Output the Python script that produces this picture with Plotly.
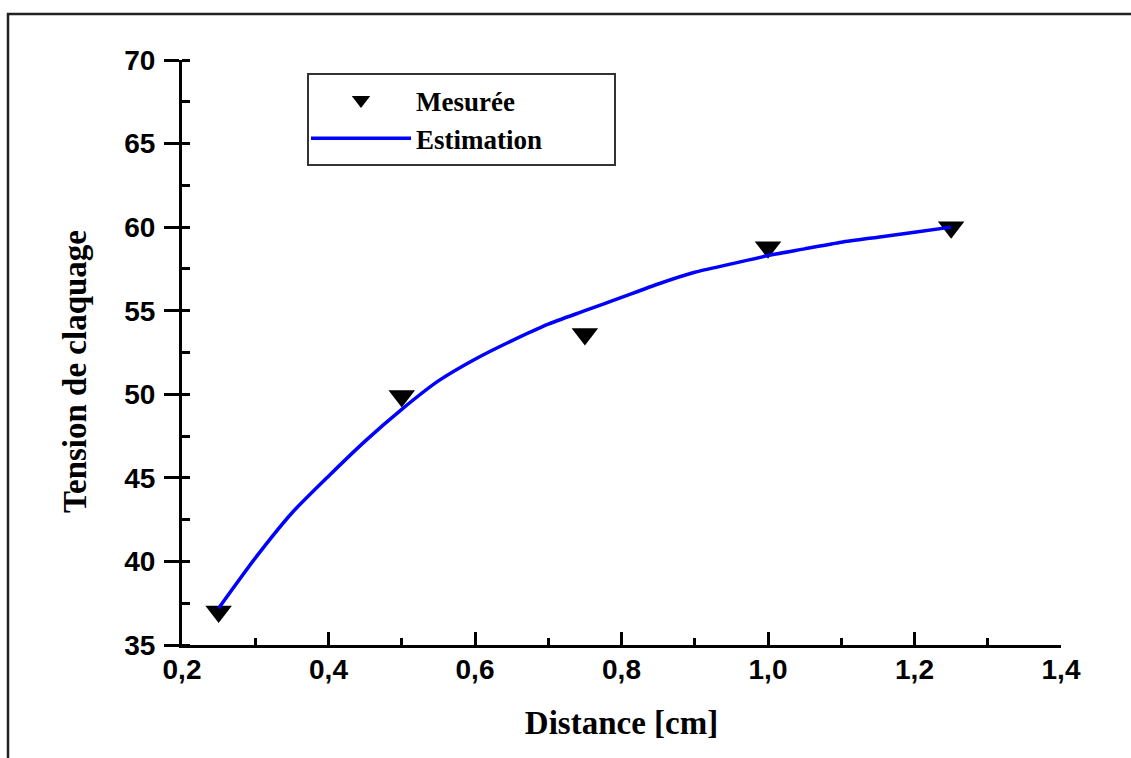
import plotly.graph_objects as go

# Measured data
dist_measured = [0.25, 0.50, 0.75, 1.00, 1.25]
tension_measured = [37.0, 49.9, 53.6, 58.8, 60.0]

# Estimation curve
dist_est = [0.25, 0.30, 0.35, 0.40, 0.45, 0.50, 0.55, 0.60, 0.65, 0.70, 0.75,
            0.80, 0.85, 0.90, 0.95, 1.00, 1.05, 1.10, 1.15, 1.20, 1.25]
tension_est = [37.2, 40.2, 42.9, 45.1, 47.2, 49.1, 50.8, 52.1, 53.2, 54.2, 55.0,
               55.8, 56.6, 57.3, 57.8, 58.3, 58.7, 59.1, 59.4, 59.7, 60.0]

x_tick_vals = [0.2, 0.4, 0.6, 0.8, 1.0, 1.2, 1.4]
x_tick_text = ["0,2", "0,4", "0,6", "0,8", "1,0", "1,2", "1,4"]
y_tick_vals = [35, 40, 45, 50, 55, 60, 65, 70]
y_tick_text = ["35", "40", "45", "50", "55", "60", "65", "70"]

W, H = 1131, 758
L, R, T, B = 182, 70, 60, 113
pw = W - L - R
ph = H - T - B


def px_x(px):
    return (px - L) / pw


def px_y(py):
    return (H - B - py) / ph


tick_font = dict(family="Liberation Sans, Arial", size=28, color="black", weight="bold")
serif_bold = dict(family="Liberation Serif, Times New Roman", color="black", weight="bold")

fig = go.Figure()
fig.add_trace(go.Scatter(
    x=dist_measured, y=tension_measured, mode="markers", name="Mesurée",
    marker=dict(symbol="triangle-down", size=23, color="black"),
))
fig.add_trace(go.Scatter(
    x=dist_est, y=tension_est, mode="lines", name="Estimation",
    line=dict(color="#0000FF", width=3.5, shape="spline", smoothing=0.6),
))

fig.update_layout(
    width=W, height=H,
    margin=dict(l=L, r=R, t=T, b=B, autoexpand=False),
    paper_bgcolor="white", plot_bgcolor="white",
    showlegend=True,
    legend=dict(
        x=px_x(306), y=px_y(76), xanchor="left", yanchor="top",
        bgcolor="rgba(0,0,0,0)", borderwidth=0,
        font=dict(size=27, **serif_bold),
        itemwidth=100, tracegroupgap=0,
    ),
    xaxis=dict(
        range=[0.2, 1.4], tickvals=x_tick_vals, ticktext=x_tick_text,
        showgrid=False, zeroline=False,
        showline=True, linecolor="black", linewidth=3, mirror=False,
        ticks="inside", ticklen=13, tickwidth=3, tickcolor="black",
        tickfont=tick_font, ticklabelstandoff=-3,
        minor=dict(ticks="inside", ticklen=7, tickwidth=3, tickcolor="black",
                   dtick=0.1, tick0=0.2, showgrid=False),
        title=dict(text="Distance [cm]", font=dict(size=33, **serif_bold), standoff=28),
    ),
    yaxis=dict(
        range=[35, 70], tickvals=y_tick_vals, ticktext=y_tick_text,
        showgrid=False, zeroline=False,
        showline=True, linecolor="black", linewidth=3, mirror=False,
        ticks="outside", ticklen=15, tickwidth=3, tickcolor="black",
        tickfont=tick_font, ticklabelstandoff=3,
        minor=dict(ticks="inside", ticklen=8, tickwidth=3, tickcolor="black",
                   dtick=2.5, tick0=35, showgrid=False),
    ),
    annotations=[dict(
        text="Tension de claquage", textangle=-90,
        xref="paper", yref="paper",
        x=px_x(75), y=px_y(372),
        xanchor="center", yanchor="middle", showarrow=False,
        font=dict(size=33, **serif_bold),
    )],
    shapes=[
        dict(
            type="rect", xref="paper", yref="paper",
            x0=px_x(8), x1=px_x(W + 20), y0=px_y(14), y1=px_y(H + 20),
            line=dict(color="#222222", width=2.5), fillcolor="rgba(0,0,0,0)", layer="below",
        ),
        dict(
            type="rect", xref="paper", yref="paper",
            x0=px_x(308), x1=px_x(615), y0=px_y(74), y1=px_y(165),
            line=dict(color="#333333", width=2), fillcolor="rgba(0,0,0,0)", layer="above",
        ),
    ],
)

fig.write_html("out.html")
